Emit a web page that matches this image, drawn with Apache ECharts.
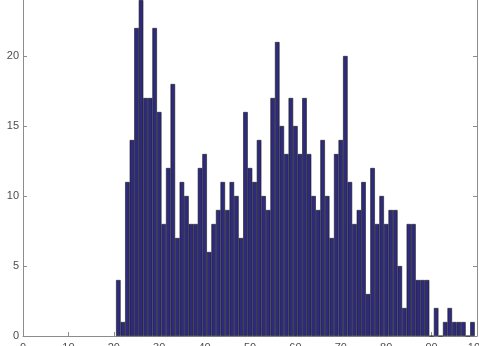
<!DOCTYPE html>
<html>
<head>
<meta charset="utf-8">
<script src="https://cdn.jsdelivr.net/npm/echarts@6/dist/echarts.min.js"></script>
<style>
  html, body { margin: 0; padding: 0; background: #fff; }
  #chart { width: 479px; height: 346px; }
</style>
</head>
<body>
<div id="chart"></div>
<script>
// bin centres and counts
const binCentres = [
  21, 22, 23, 24, 25, 26, 27, 28, 29, 30,
  31, 32, 33, 34, 35, 36, 37, 38, 39, 40,
  41, 42, 43, 44, 45, 46, 47, 48, 49, 50,
  51, 52, 53, 54, 55, 56, 57, 58, 59, 60,
  61, 62, 63, 64, 65, 66, 67, 68, 69, 70,
  71, 72, 73, 74, 75, 76, 77, 78, 79, 80,
  81, 82, 83, 84, 85, 86, 87, 88, 89, 90,
  91, 92, 93, 94, 95, 96, 97, 98, 99
];
const counts = [
  4, 1, 11, 14, 22, 24, 17, 17, 22, 16,
  8, 12, 18, 7, 11, 10, 8, 8, 12, 13,
  6, 8, 9, 11, 9, 11, 10, 7, 16, 12,
  11, 14, 10, 9, 17, 21, 15, 13, 17, 15,
  13, 17, 13, 10, 9, 14, 10, 7, 13, 14,
  20, 11, 8, 9, 11, 3, 12, 8, 10, 8,
  9, 9, 5, 2, 8, 8, 4, 4, 4, 0,
  2, 0, 1, 2, 1, 1, 1, 0, 1
];
const xTicks = [0, 10, 20, 30, 40, 50, 60, 70, 80, 90, 100];
const yTicks = [0, 5, 10, 15, 20, 25];

const axisGrey = '#8c8c8c';
const labelGrey = '#4d4d4d';

const chart = echarts.init(document.getElementById('chart'));

const xBase = {
  type: 'value',
  min: xTicks[0],
  max: xTicks[xTicks.length - 1],
  interval: 10,
  splitLine: { show: false },
  axisLine: { show: true, onZero: false, lineStyle: { color: axisGrey, width: 1 } },
  axisTick: { show: true, inside: true, length: 4, lineStyle: { color: axisGrey } }
};
const yBase = {
  type: 'value',
  min: yTicks[0],
  max: yTicks[yTicks.length - 1],
  interval: 5,
  splitLine: { show: false },
  axisLine: { show: true, onZero: false, lineStyle: { color: axisGrey, width: 1 } },
  axisTick: { show: true, inside: true, length: 4, lineStyle: { color: axisGrey } }
};

chart.setOption({
  animation: false,
  backgroundColor: '#ffffff',
  grid: { left: 23, right: 2, top: -14, bottom: 10, containLabel: false, outerBoundsMode: 'none' },
  xAxis: [
    Object.assign({}, xBase, {
      position: 'bottom',
      axisLabel: { color: labelGrey, fontSize: 11, fontFamily: 'Liberation Sans', margin: 6 }
    }),
    Object.assign({}, xBase, { position: 'top', axisLabel: { show: false } })
  ],
  yAxis: [
    Object.assign({}, yBase, {
      position: 'left',
      axisLabel: { color: labelGrey, fontSize: 11, fontFamily: 'Liberation Sans', margin: 4 }
    }),
    Object.assign({}, yBase, { position: 'right', axisLabel: { show: false } })
  ],
  series: [{
    type: 'bar',
    xAxisIndex: 0,
    yAxisIndex: 0,
    barWidth: 4.54,
    data: binCentres.map((c, i) => [c, counts[i]]),
    itemStyle: { color: '#2e2a7c', borderColor: '#1a1a1a', borderWidth: 0.6 }
  }]
});
</script>
</body>
</html>
